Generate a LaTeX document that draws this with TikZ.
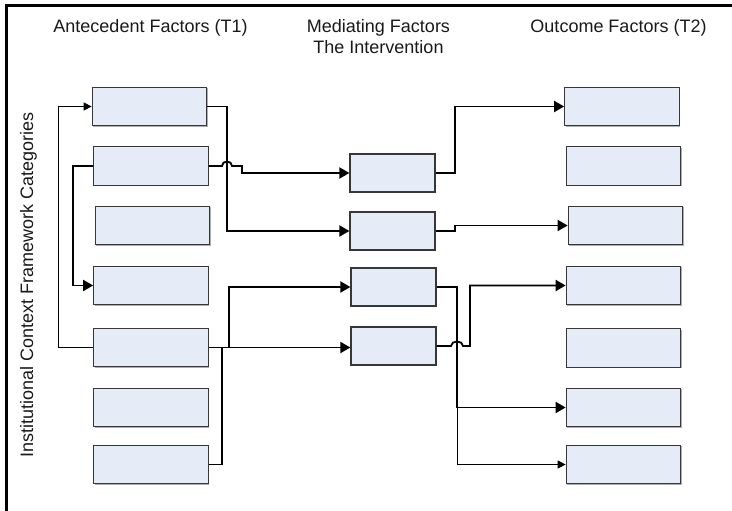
\documentclass[tikz,border=0pt]{standalone}
\usepackage{fontspec}
\setmainfont{Liberation Sans}
\usetikzlibrary{arrows.meta,shadows}
\definecolor{boxfill}{RGB}{230,236,247}
\definecolor{boxline}{RGB}{55,55,55}
\begin{document}
\begin{tikzpicture}[x=1pt,y=-1pt,
  factor/.style={draw=boxline,line width=1.2pt,fill=boxfill,minimum width=114.5pt,minimum height=38.5pt,inner sep=0pt,
    drop shadow={shadow xshift=1pt,shadow yshift=-1pt,fill=black!45,opacity=0.7}},
  midbox/.style={factor,minimum width=85pt,minimum height=38pt},
  heading/.style={font=\fontsize{18}{21}\selectfont,inner sep=0pt,text=black!90},
  link/.style={line width=1.8pt,line join=miter},
  thinlink/.style={line width=1pt},
  tip/.style={-{Triangle[length=10pt,width=11pt]}},
  smalltip/.style={-{Triangle[length=8pt,width=8pt]}}]
\useasboundingbox (0,0) rectangle (732,511);

% frame (top and left rules)
\draw[line width=3pt] (6.5,511) -- (6.5,5.5) -- (732,5.5);

% headings
\node[heading,anchor=base] (hA) at (150.5,33) {Antecedent Factors (T1)};
\node[heading,anchor=north,align=center] (hM) at (378.5,19.5) {Mediating Factors\\The Intervention};
\node[heading,anchor=base] (hO) at (618.5,33) {Outcome Factors (T2)};
\node[heading,anchor=base,rotate=90] (hI) at (33,285) {Institutional Context Framework Categories};

% antecedent factors
\node[factor] (L1) at (149.5,106.5) {};
\node[factor] (L2) at (151,166) {};
\node[factor] (L3) at (152.5,225.5) {};
\node[factor] (L4) at (151,285.5) {};
\node[factor] (L5) at (151,347.5) {};
\node[factor] (L6) at (151,407.5) {};
\node[factor] (L7) at (151,464.5) {};

% mediating factors
\node[midbox] (M1) at (392.5,173) {};
\node[midbox] (M2) at (392.5,231) {};
\node[midbox] (M3) at (393.5,287) {};
\node[midbox] (M4) at (393.5,346) {};

% outcome factors
\node[factor] (R1) at (622,106.5) {};
\node[factor] (R2) at (623.5,166) {};
\node[factor] (R3) at (625.5,225.5) {};
\node[factor] (R4) at (623.5,285.5) {};
\node[factor] (R5) at (623.5,348) {};
\node[factor] (R6) at (623.5,407.5) {};
\node[factor] (R7) at (623.5,464.5) {};

% links on the antecedent side
\draw[thinlink,smalltip] (L5.west) -- (58,347.5) -- (58,106.5) -- (L1.west);
\draw[link,tip] (L2.west) -- (73,166) -- (73,285.5) -- (L4.west);
\draw[link,tip] (L1.east) -- (227,106.5) -- (227,231) -- (M2.west);
\draw[link,tip] (L2.east) -- (222,166) .. controls (222,160) and (232,160) .. (232,166)
  -- (242,166) -- (242,173) -- (M1.west);
\draw[link,tip] (L7.east) -- (222,464.5) -- (222,347.5) -- (229,347.5) -- (229,287) -- (M3.west);
\draw[link,tip] (L5.east) -- (L5.east -| M4.west);

% links on the outcome side
\draw[link,tip] (M1.east) -- (455,173) -- (455,106.5) -- (R1.west);
\draw[link,tip] (M2.east) -- (455,231) -- (455,225.5) -- (R3.west);
\draw[link,tip] (M3.east) -- (457,287) -- (457,407.5) -- (R6.west);
\draw[thinlink,smalltip] (457,407.5) -- (457,464.5) -- (R7.west);
\draw[link,tip] (M4.east) -- (451,346) .. controls (451,340) and (463,340) .. (463,346)
  -- (470,346) -- (470,285.5) -- (R4.west);
\end{tikzpicture}
\end{document}
